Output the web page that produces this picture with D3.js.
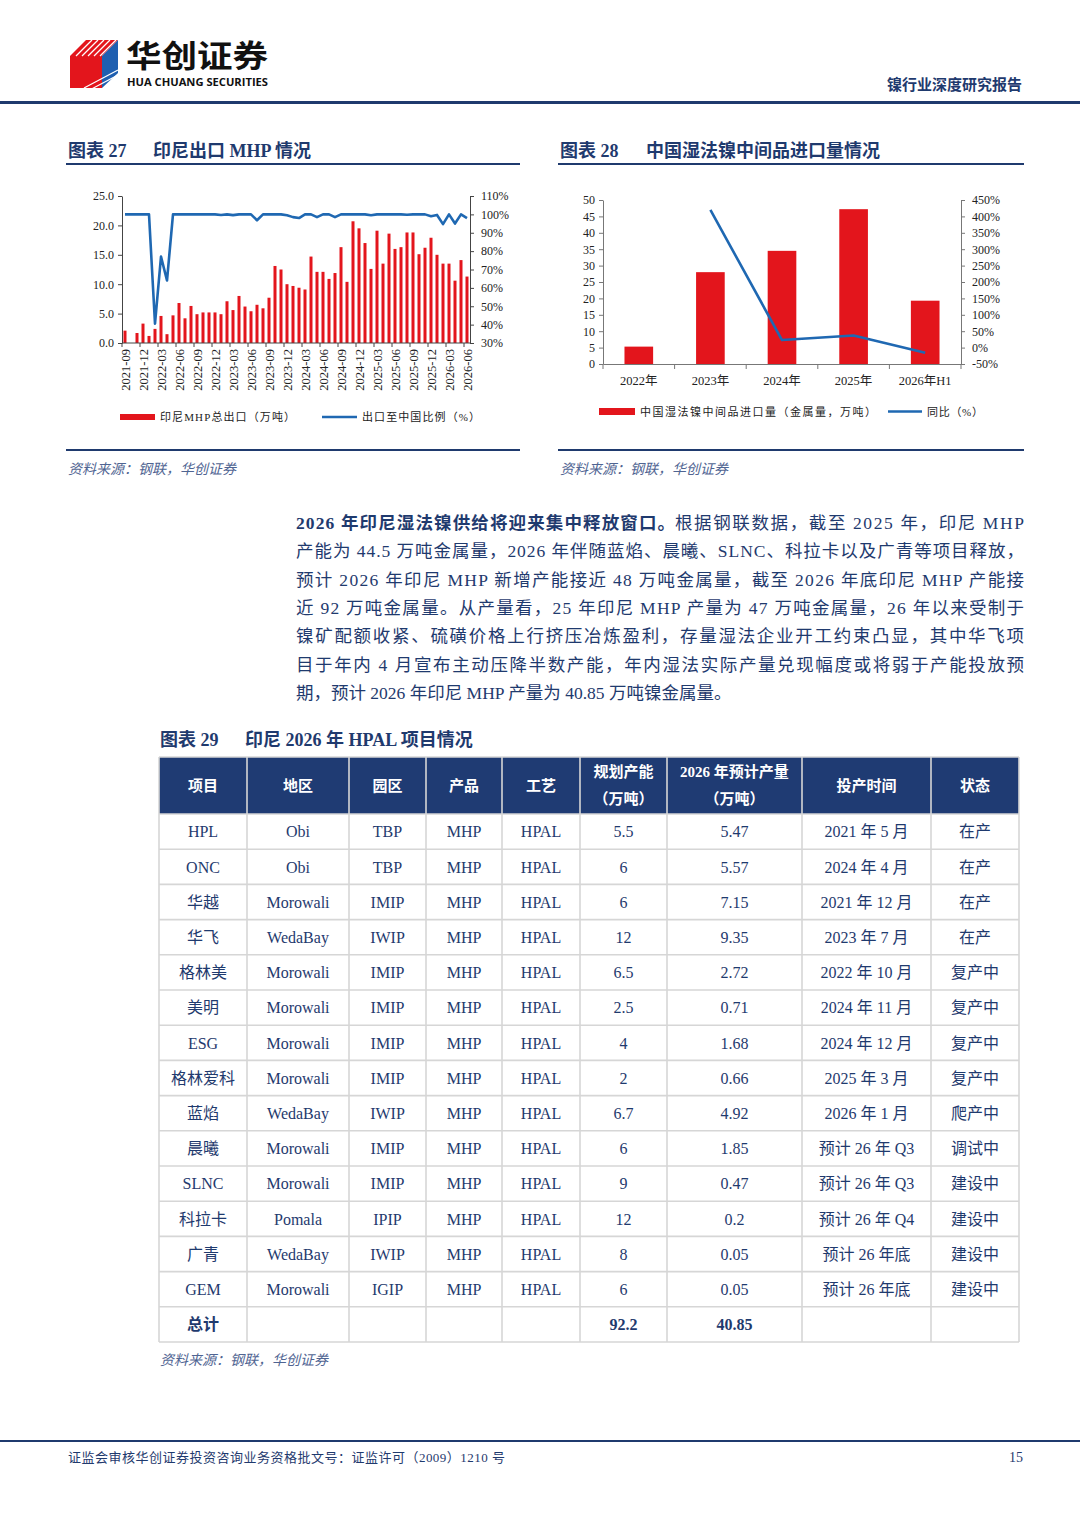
<!DOCTYPE html>
<html>
<head>
<meta charset="utf-8">
<script src="https://cdn.jsdelivr.net/npm/d3@7"></script>
<style>
  body { margin: 0; background: #fff; }
</style>
</head>
<body>
<div id="page"></div>
<script>
// ---- DATA: chart 27, Indonesia MHP exports (monthly) ----
let mhpMonths = [
  '2021-09','2021-10','2021-11','2021-12',
  '2022-01','2022-02','2022-03','2022-04','2022-05','2022-06','2022-07','2022-08','2022-09','2022-10','2022-11','2022-12',
  '2023-01','2023-02','2023-03','2023-04','2023-05','2023-06','2023-07','2023-08','2023-09','2023-10','2023-11','2023-12',
  '2024-01','2024-02','2024-03','2024-04','2024-05','2024-06','2024-07','2024-08','2024-09','2024-10','2024-11','2024-12',
  '2025-01','2025-02','2025-03','2025-04','2025-05','2025-06','2025-07','2025-08','2025-09','2025-10','2025-11','2025-12',
  '2026-01','2026-02','2026-03','2026-04','2026-05','2026-06'
]
let mhpTickLabels = ['2021-09','2021-12','2022-03','2022-06','2022-09','2022-12','2023-03','2023-06','2023-09','2023-12',
  '2024-03','2024-06','2024-09','2024-12','2025-03','2025-06','2025-09','2025-12','2026-03','2026-06']
// 印尼MHP总出口（万吨）
let mhpExport = [2.1, 0, 1.7, 3.3, 1.2, 2.4, 4.6, 1.5, 4.7, 6.8,
  4.2, 6.3, 4.9, 5.2, 5.2, 5.2, 4.9, 7.1, 5.6, 8.0,
  6.2, 5.4, 6.5, 5.9, 7.7, 13.1, 12.5, 10.0, 9.7, 9.4,
  9.1, 14.7, 12.1, 12.1, 10.9, 11.9, 16.3, 10.4, 20.7, 19.5,
  17.0, 12.6, 19.1, 13.5, 18.6, 16.0, 16.3, 18.8, 18.8, 15.1,
  16.2, 17.9, 15.0, 13.5, 13.5, 10.6, 14.1, 11.3]
// 出口至中国比例（%）
let mhpChinaShare = [100, 100, 100, 100, 100, 40.5, 77, 64, 100, 100,
  100, 100, 100, 100, 100, 100, 99.7, 100, 99.6, 100,
  100, 100, 96.8, 100, 100, 100, 100, 99.5, 98.5, 98,
  100, 100, 98.5, 100, 100, 98.5, 100, 100, 100, 100,
  100, 99.5, 100, 100, 100, 100, 100, 99.8, 100, 100,
  100, 99, 99.7, 94.7, 100, 95, 100, 98]

// ---- DATA: chart 28, China wet-process nickel intermediate imports ----
let importYears = ['2022年', '2023年', '2024年', '2025年', '2026年H1']
let importVolume = [5.3, 28.0, 34.5, 47.2, 19.3]
let importYoy = [null, 420, 23, 37, -16]

// ---- DATA: chart 29, HPAL projects table ----
let tableHeaders = [['项目'], ['地区'], ['园区'], ['产品'], ['工艺'], ['规划产能', '（万吨）'], ['2026 年预计产量', '（万吨）'], ['投产时间'], ['状态']]
let projects = ['HPL','ONC','华越','华飞','格林美','美明','ESG','格林爱科','蓝焰','晨曦','SLNC','科拉卡','广青','GEM']
let regions = ['Obi','Obi','Morowali','WedaBay','Morowali','Morowali','Morowali','Morowali','WedaBay','Morowali','Morowali','Pomala','WedaBay','Morowali']
let parks = ['TBP','TBP','IMIP','IWIP','IMIP','IMIP','IMIP','IMIP','IWIP','IMIP','IMIP','IPIP','IWIP','IGIP']
let products = ['MHP','MHP','MHP','MHP','MHP','MHP','MHP','MHP','MHP','MHP','MHP','MHP','MHP','MHP']
let processes = ['HPAL','HPAL','HPAL','HPAL','HPAL','HPAL','HPAL','HPAL','HPAL','HPAL','HPAL','HPAL','HPAL','HPAL']
let capacity = ['5.5','6','6','12','6.5','2.5','4','2','6.7','6','9','12','8','6']
let output2026 = ['5.47','5.57','7.15','9.35','2.72','0.71','1.68','0.66','4.92','1.85','0.47','0.2','0.05','0.05']
let startDates = ['2021 年 5 月','2024 年 4 月','2021 年 12 月','2023 年 7 月','2022 年 10 月','2024 年 11 月','2024 年 12 月',
  '2025 年 3 月','2026 年 1 月','预计 26 年 Q3','预计 26 年 Q3','预计 26 年 Q4','预计 26 年底','预计 26 年底']
let statuses = ['在产','在产','在产','在产','复产中','复产中','复产中','复产中','爬产中','调试中','建设中','建设中','建设中','建设中']
let totalRow = ['总计', '', '', '', '', '92.2', '40.85', '', '']

// ---- DATA: text ----
let paragraphLines = [
  '产能为 44.5 万吨金属量，2026 年伴随蓝焰、晨曦、SLNC、科拉卡以及广青等项目释放，',
  '预计 2026 年印尼 MHP 新增产能接近 48 万吨金属量，截至 2026 年底印尼 MHP 产能接',
  '近 92 万吨金属量。从产量看，25 年印尼 MHP 产量为 47 万吨金属量，26 年以来受制于',
  '镍矿配额收紧、硫磺价格上行挤压冶炼盈利，存量湿法企业开工约束凸显，其中华飞项',
  '目于年内 4 月宣布主动压降半数产能，年内湿法实际产量兑现幅度或将弱于产能投放预',
  '期，预计 2026 年印尼 MHP 产量为 40.85 万吨镍金属量。'
]
let paragraphLead = '2026 年印尼湿法镍供给将迎来集中释放窗口。'
let paragraphLeadRest = '根据钢联数据，截至 2025 年，印尼 MHP'

// STYLE
let NAVY = '#1f3a6e', RED = '#e3151c', BLUE = '#1f68b2', SRC = '#4f6492'
let SERIF = '"Liberation Serif", "Noto Sans CJK SC", serif'
let CJK = '"Noto Sans CJK SC", "Liberation Serif", sans-serif'

let svg = d3.select('#page').append('svg')
  .attr('width', 1080).attr('height', 1528)
  .style('display', 'block').style('background', '#fff')

// HEADER
let logo = svg.append('g')
logo.append('polygon').attr('points', '70,56 86,40 118,40 102,56 102,88 70,88').attr('fill', RED)
logo.append('polygon').attr('points', '102,56 118,40 118,73 102,88').attr('fill', '#1f5fb0')
;[76, 82, 88, 94, 100].forEach(x => {
  logo.append('line').attr('x1', x).attr('y1', 56).attr('x2', x + 16).attr('y2', 40)
    .attr('stroke', '#fff').attr('stroke-width', 1.3)
})
;[79, 84].forEach(y => {
  logo.append('line').attr('x1', 84).attr('y1', y + 9).attr('x2', 118).attr('y2', y - 9)
    .attr('stroke', '#fff').attr('stroke-width', 1.3)
})
svg.append('text').attr('x', 126).attr('y', 67).text('华创证券')
  .attr('font-family', CJK).attr('font-weight', 700).attr('font-size', 31)
  .attr('textLength', 142).attr('lengthAdjust', 'spacingAndGlyphs').attr('fill', '#111')
svg.append('text').attr('x', 127).attr('y', 86).text('HUA CHUANG SECURITIES')
  .attr('font-family', '"Open Sans", sans-serif').attr('font-weight', 700).attr('font-size', 10.5)
  .attr('textLength', 141).attr('lengthAdjust', 'spacingAndGlyphs').attr('fill', '#111')
svg.append('text').attr('x', 1022).attr('y', 90).attr('text-anchor', 'end').text('镍行业深度研究报告')
  .attr('font-family', CJK).attr('font-weight', 700).attr('font-size', 15).attr('fill', NAVY)
svg.append('rect').attr('x', 0).attr('y', 101).attr('width', 1080).attr('height', 3).attr('fill', NAVY)

// section title helper
function sectionTitle (x, num, label, y, x2) {
  svg.append('text').attr('x', x).attr('y', y).text('图表 ' + num)
    .attr('font-family', SERIF).attr('font-weight', 700).attr('font-size', 18).attr('fill', NAVY)
  svg.append('text').attr('x', x2).attr('y', y).text(label)
    .attr('font-family', SERIF).attr('font-weight', 700).attr('font-size', 18).attr('fill', NAVY)
}
function sourceNote (x, y) {
  svg.append('text').attr('x', x).attr('y', y).text('资料来源：钢联，华创证券')
    .attr('font-family', CJK).attr('font-style', 'italic').attr('font-size', 14).attr('fill', SRC)
}

sectionTitle(68, '27', '印尼出口 MHP 情况', 157, 153)
svg.append('rect').attr('x', 66).attr('y', 163).attr('width', 454).attr('height', 2).attr('fill', NAVY)
sectionTitle(560, '28', '中国湿法镍中间品进口量情况', 157, 646)
svg.append('rect').attr('x', 558).attr('y', 163).attr('width', 466).attr('height', 2).attr('fill', NAVY)

function styleAxis (g, color) {
  g.attr('font-family', SERIF).attr('font-size', 12)
  g.selectAll('path.domain').attr('stroke', color)
  g.selectAll('.tick line').attr('stroke', color)
  g.selectAll('.tick text').attr('fill', '#222')
}

// CHART 27
let c27 = { left: 122, right: 470, top: 196, bottom: 343 }
let x27 = d3.scaleBand().domain(mhpMonths).range([c27.left, c27.right]).padding(0)
let y27 = d3.scaleLinear().domain([0, 25]).range([c27.bottom, c27.top])
let y27r = d3.scaleLinear().domain([30, 110]).range([c27.bottom, c27.top])
let bw27 = x27.bandwidth() * 0.5

svg.append('g').selectAll('rect').data(mhpExport).enter().append('rect')
  .attr('x', (d, i) => x27(mhpMonths[i]) + (x27.bandwidth() - bw27) / 2)
  .attr('y', d => y27(d))
  .attr('width', bw27)
  .attr('height', d => y27(0) - y27(d))
  .attr('fill', RED)

let gy27 = svg.append('g').attr('transform', 'translate(' + c27.left + ',0)')
  .call(d3.axisLeft(y27).ticks(5).tickSize(4).tickSizeOuter(0).tickFormat(d3.format('.1f')))
styleAxis(gy27, '#444')
gy27.selectAll('.tick text').attr('x', -8)

let gy27r = svg.append('g').attr('transform', 'translate(' + c27.right + ',0)')
  .call(d3.axisRight(y27r).ticks(8).tickSize(4).tickSizeOuter(0).tickFormat(d => d + '%'))
styleAxis(gy27r, '#444')
gy27r.selectAll('.tick text').attr('x', 11)

// x axis: baseline, ticks at every third month edge, vertical labels
svg.append('line').attr('x1', c27.left).attr('x2', c27.right).attr('y1', c27.bottom).attr('y2', c27.bottom)
  .attr('stroke', '#444')
svg.append('g').selectAll('line').data(mhpTickLabels).enter().append('line')
  .attr('x1', d => x27(d)).attr('x2', d => x27(d))
  .attr('y1', c27.bottom).attr('y2', c27.bottom + 4).attr('stroke', '#444')
svg.append('g').selectAll('text').data(mhpTickLabels).enter().append('text')
  .attr('transform', d => 'translate(' + (x27(d) + x27.bandwidth() / 2 + 1) + ',' + (c27.bottom + 6) + ') rotate(-90)')
  .attr('text-anchor', 'end').attr('dy', '0.35em')
  .attr('font-family', SERIF).attr('font-size', 12.5).attr('fill', '#222')
  .text(d => d)

svg.append('path').datum(mhpChinaShare)
  .attr('fill', 'none').attr('stroke', BLUE).attr('stroke-width', 2.6).attr('stroke-linejoin', 'round')
  .attr('d', d3.line().x((d, i) => x27(mhpMonths[i]) + x27.bandwidth() / 2).y(d => y27r(d)))

// legend 27
svg.append('rect').attr('x', 120).attr('y', 414).attr('width', 35).attr('height', 6).attr('fill', RED)
svg.append('text').attr('x', 160).attr('y', 421).text('印尼MHP总出口（万吨）')
  .attr('font-family', SERIF).attr('font-size', 11).attr('fill', '#222')
  .attr('textLength', 135).attr('lengthAdjust', 'spacing')
svg.append('line').attr('x1', 322).attr('x2', 357).attr('y1', 417).attr('y2', 417)
  .attr('stroke', BLUE).attr('stroke-width', 2.6)
svg.append('text').attr('x', 362).attr('y', 421).text('出口至中国比例（%）')
  .attr('font-family', SERIF).attr('font-size', 11).attr('fill', '#222')
  .attr('textLength', 118).attr('lengthAdjust', 'spacing')

svg.append('rect').attr('x', 66).attr('y', 449).attr('width', 454).attr('height', 2).attr('fill', NAVY)
sourceNote(68, 474)

// CHART 28
let c28 = { left: 603, right: 961, top: 200, bottom: 364 }
let x28 = d3.scaleBand().domain(importYears).range([c28.left, c28.right]).padding(0)
let y28 = d3.scaleLinear().domain([0, 50]).range([c28.bottom, c28.top])
let y28r = d3.scaleLinear().domain([-50, 450]).range([c28.bottom, c28.top])
let bw28 = x28.bandwidth() * 0.4

svg.append('g').selectAll('rect').data(importVolume).enter().append('rect')
  .attr('x', (d, i) => x28(importYears[i]) + (x28.bandwidth() - bw28) / 2)
  .attr('y', d => y28(d))
  .attr('width', bw28)
  .attr('height', d => y28(0) - y28(d))
  .attr('fill', RED)

let gy28 = svg.append('g').attr('transform', 'translate(' + c28.left + ',0)')
  .call(d3.axisLeft(y28).ticks(10).tickSize(4).tickSizeOuter(0))
styleAxis(gy28, '#777')
gy28.selectAll('.tick text').attr('x', -8)

let gy28r = svg.append('g').attr('transform', 'translate(' + c28.right + ',0)')
  .call(d3.axisRight(y28r).ticks(10).tickSize(4).tickSizeOuter(0).tickFormat(d => d + '%'))
styleAxis(gy28r, '#777')
gy28r.selectAll('.tick text').attr('x', 11)

let gx28 = svg.append('g').attr('transform', 'translate(0,' + c28.bottom + ')')
  .call(d3.axisBottom(x28).tickSize(0).tickSizeOuter(0))
styleAxis(gx28, '#777')
gx28.selectAll('.tick text').attr('y', 12).attr('font-size', 12.5)
svg.append('g').selectAll('line').data(importYears.concat(['end'])).enter().append('line')
  .attr('x1', d => d === 'end' ? c28.right : x28(d))
  .attr('x2', d => d === 'end' ? c28.right : x28(d))
  .attr('y1', c28.bottom).attr('y2', c28.bottom + 5).attr('stroke', '#777')

svg.append('path').datum(importYoy)
  .attr('fill', 'none').attr('stroke', BLUE).attr('stroke-width', 2.6).attr('stroke-linejoin', 'round')
  .attr('d', d3.line().defined(d => d !== null)
    .x((d, i) => x28(importYears[i]) + x28.bandwidth() / 2).y(d => y28r(d)))

// legend 28
svg.append('rect').attr('x', 599).attr('y', 408).attr('width', 36).attr('height', 7).attr('fill', RED)
svg.append('text').attr('x', 640).attr('y', 416).text('中国湿法镍中间品进口量（金属量，万吨）')
  .attr('font-family', SERIF).attr('font-size', 11).attr('fill', '#222')
  .attr('textLength', 236).attr('lengthAdjust', 'spacing')
svg.append('line').attr('x1', 888).attr('x2', 922).attr('y1', 411.5).attr('y2', 411.5)
  .attr('stroke', BLUE).attr('stroke-width', 2.6)
svg.append('text').attr('x', 927).attr('y', 416).text('同比（%）')
  .attr('font-family', SERIF).attr('font-size', 11).attr('fill', '#222')
  .attr('textLength', 56).attr('lengthAdjust', 'spacing')

svg.append('rect').attr('x', 558).attr('y', 449).attr('width', 466).attr('height', 2).attr('fill', NAVY)
sourceNote(560, 474)

// PARAGRAPH (justified lines)
let pLeft = 296, pRight = 1024, pTop = 529, pStep = 28.3, pSize = 17.5
let leadEnd = 675
svg.append('text').attr('x', pLeft).attr('y', pTop).text(paragraphLead)
  .attr('font-family', SERIF).attr('font-weight', 700).attr('font-size', pSize).attr('fill', NAVY)
  .attr('textLength', leadEnd - pLeft).attr('lengthAdjust', 'spacing')
svg.append('text').attr('x', leadEnd).attr('y', pTop).text(paragraphLeadRest)
  .attr('font-family', SERIF).attr('font-size', pSize).attr('fill', NAVY)
  .attr('textLength', pRight - leadEnd).attr('lengthAdjust', 'spacing')
paragraphLines.forEach((line, i) => {
  let t = svg.append('text').attr('x', pLeft).attr('y', pTop + (i + 1) * pStep).text(line)
    .attr('font-family', SERIF).attr('font-size', pSize).attr('fill', NAVY)
  if (i < paragraphLines.length - 1) t.attr('textLength', pRight - pLeft).attr('lengthAdjust', 'spacing')
})

// TABLE
sectionTitle(160, '29', '印尼 2026 年 HPAL 项目情况', 746, 245)
let colX = [159, 247, 349, 426, 502, 580, 667, 802, 931, 1019]
let headTop = 757, headBot = 814, rowH = 35.2
let rows = projects.map((p, i) => [p, regions[i], parks[i], products[i], processes[i], capacity[i], output2026[i], startDates[i], statuses[i]])
rows.push(totalRow)
let tableBot = headBot + rows.length * rowH

svg.append('rect').attr('x', colX[0]).attr('y', headTop).attr('width', colX[9] - colX[0]).attr('height', headBot - headTop)
  .attr('fill', '#1f3b73')

tableHeaders.forEach((h, j) => {
  let cx = (colX[j] + colX[j + 1]) / 2
  let cy = (headTop + headBot) / 2
  h.forEach((line, k) => {
    svg.append('text').attr('x', cx).attr('y', cy + (k - (h.length - 1) / 2) * 27).attr('dy', '0.36em')
      .attr('text-anchor', 'middle').text(line)
      .attr('font-family', SERIF).attr('font-weight', 700).attr('font-size', 15).attr('fill', '#fff')
  })
})

rows.forEach((r, i) => {
  let cy = headBot + i * rowH + rowH / 2
  let isTotal = i === rows.length - 1
  r.forEach((v, j) => {
    svg.append('text').attr('x', (colX[j] + colX[j + 1]) / 2).attr('y', cy).attr('dy', '0.36em')
      .attr('text-anchor', 'middle').text(v)
      .attr('font-family', SERIF).attr('font-size', 16)
      .attr('font-weight', isTotal ? 700 : 400).attr('fill', NAVY)
  })
})

// grid
let grid = svg.append('g').attr('stroke', '#d6d6d6').attr('stroke-width', 1.6)
colX.forEach(x => grid.append('line').attr('x1', x).attr('x2', x).attr('y1', headTop).attr('y2', tableBot))
d3.range(rows.length + 1).forEach(i => {
  let y = headBot + i * rowH
  grid.append('line').attr('x1', colX[0]).attr('x2', colX[9]).attr('y1', y).attr('y2', y)
})
grid.append('line').attr('x1', colX[0]).attr('x2', colX[9]).attr('y1', headTop).attr('y2', headTop)

sourceNote(160, 1365)

// FOOTER
svg.append('rect').attr('x', 0).attr('y', 1440).attr('width', 1080).attr('height', 2).attr('fill', NAVY)
svg.append('text').attr('x', 68).attr('y', 1462).text('证监会审核华创证券投资咨询业务资格批文号：证监许可（2009）1210 号')
  .attr('font-family', SERIF).attr('font-size', 13).attr('fill', NAVY)
  .attr('textLength', 437).attr('lengthAdjust', 'spacing')
svg.append('text').attr('x', 1023).attr('y', 1462).attr('text-anchor', 'end').text('15')
  .attr('font-family', SERIF).attr('font-size', 14).attr('fill', NAVY)
</script>
</body>
</html>
